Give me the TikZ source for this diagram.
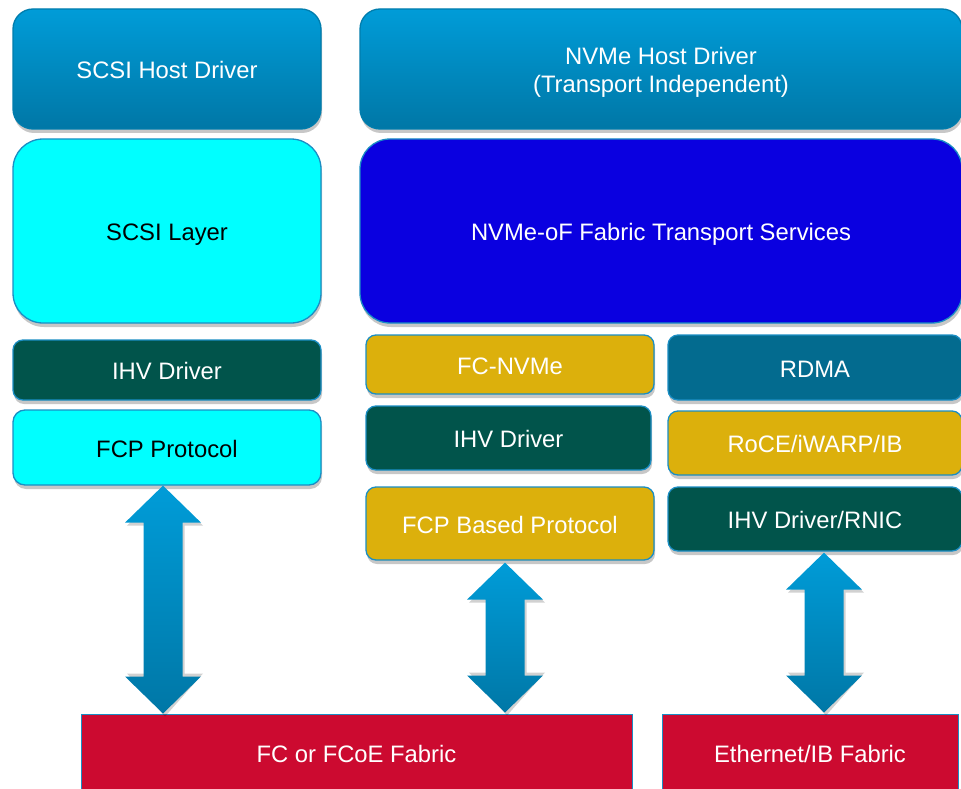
\documentclass[tikz,border=0pt]{standalone}
\usepackage{fontspec}
\setmainfont{Liberation Sans}
\usetikzlibrary{shadows,calc}

\definecolor{hostTop}{HTML}{009CD8}
\definecolor{hostBot}{HTML}{0077A6}
\definecolor{edgeBlue}{HTML}{1B8EC4}
\definecolor{scsiCyan}{HTML}{00FFFF}
\definecolor{fabBlue}{HTML}{0A00E0}
\definecolor{ihvGreen}{HTML}{01544B}
\definecolor{gold}{HTML}{DCB00C}
\definecolor{rdmaBlue}{HTML}{036B8F}
\definecolor{fabricRed}{HTML}{CC0A30}

\tikzset{
  layer/.style={draw=edgeBlue, line width=1.3pt, inner sep=0pt, align=center,
    text=white, font=\fontsize{23.8}{28.5}\selectfont,
    text height=19pt, text depth=0pt,
    drop shadow={shadow xshift=1pt, shadow yshift=-4pt, opacity=0.22, fill=black}},
  hostbox/.style={layer, rounded corners=20pt, top color=hostTop, bottom color=hostBot, draw=hostTop!80!black},
  cyanbox/.style={layer, rounded corners=#1, fill=scsiCyan, text=black},
  bluebox/.style={layer, rounded corners=30pt, fill=fabBlue},
  greenbox/.style={layer, rounded corners=10pt, fill=ihvGreen},
  goldbox/.style={layer, rounded corners=10pt, fill=gold},
  rdmabox/.style={layer, rounded corners=10pt, fill=rdmaBlue},
  fabricbox/.style={draw=edgeBlue, line width=1pt, fill=fabricRed, inner sep=0pt,
    text=white, font=\fontsize{23.8}{28.5}\selectfont, text height=19pt, text depth=0pt},
  twoline/.style={text=white, align=center, inner sep=0pt, font=\fontsize{23.8}{28.5}\selectfont},
  arrowshade/.style={top color=hostTop, bottom color=hostBot},
}

% fat double-headed arrow between two points (top tip, bottom tip)
\newcommand\fatarrow[2]{%
  \path let \p1=#1, \p2=#2 in
    [fill=black, opacity=0.18]
    (\x1+2pt,\y1-3pt) -- (\x1+40pt,\y1-40pt) -- (\x1+21.5pt,\y1-40pt)
    -- (\x1+21.5pt,\y2+40pt) -- (\x1+40pt,\y2+40pt) -- (\x1+2pt,\y2-3pt)
    -- (\x1-36pt,\y2+40pt) -- (\x1-17.5pt,\y2+40pt) -- (\x1-17.5pt,\y1-40pt)
    -- (\x1-36pt,\y1-40pt) -- cycle;
  \shade[arrowshade] let \p1=#1, \p2=#2 in
    (\x1,\y1) -- (\x1+38pt,\y1-37pt) -- (\x1+19.5pt,\y1-37pt)
    -- (\x1+19.5pt,\y2+37pt) -- (\x1+38pt,\y2+37pt) -- (\x1,\y2)
    -- (\x1-38pt,\y2+37pt) -- (\x1-19.5pt,\y2+37pt) -- (\x1-19.5pt,\y1-37pt)
    -- (\x1-38pt,\y1-37pt) -- cycle;
}

\begin{document}
\begin{tikzpicture}[x=1pt,y=-1pt]
\useasboundingbox[fill=white] (0,0) rectangle (961,789);

% host drivers
\node[hostbox, minimum width=308pt, minimum height=120pt] (shd) at (167,69) {SCSI Host Driver};
\node[hostbox, minimum width=602pt, minimum height=120pt, text height=, text depth=] (nhd) at (661,69) {};
\node[twoline] (nhdtext) at ($(nhd.center)+(0,3.5)$) {NVMe Host Driver\\(Transport Independent)};

% middle layers
\node[cyanbox=30pt, minimum width=308pt, minimum height=184pt] (sl) at (167,231) {SCSI Layer};
\node[bluebox, minimum width=602pt, minimum height=184pt] (nof) at (661,231) {NVMe-oF Fabric Transport Services};

% SCSI stack
\node[greenbox, minimum width=308pt, minimum height=60pt] (ihva) at (167,370) {IHV Driver};
\node[cyanbox=12pt, minimum width=308pt, minimum height=75pt] (fcp) at (167,447.5) {FCP Protocol};

% FC-NVMe stack
\node[goldbox, minimum width=288pt, minimum height=59pt] (fcn) at (510,364.5) {FC-NVMe};
\node[greenbox, minimum width=285pt, minimum height=64pt] (ihvb) at (508.5,438) {IHV Driver};
\node[goldbox, minimum width=288pt, minimum height=73pt] (fcpb) at (510,523.5) {FCP Based Protocol};

% RDMA stack
\node[rdmabox, minimum width=294pt, minimum height=65pt] (rdma) at (815,367.5) {RDMA};
\node[goldbox, minimum width=294pt, minimum height=64pt] (roce) at (815,443) {RoCE/iWARP/IB};
\node[greenbox, minimum width=294pt, minimum height=64pt] (rnic) at (815,519) {IHV Driver/RNIC};

% fabrics
\node[fabricbox, minimum width=551pt, minimum height=77pt] (fcf) at (356.5,752.5) {FC or FCoE Fabric};
\node[fabricbox, minimum width=296pt, minimum height=77pt] (eib) at (810,752.5) {Ethernet/IB Fabric};

% arrow axes
\coordinate (axa) at (163,0);
\coordinate (axb) at (505,0);
\coordinate (axc) at (824,0);

\fatarrow{(axa |- fcp.south)}{(axa |- fcf.north)}
\fatarrow{($(axb |- fcpb.south)+(0,2)$)}{($(axb |- fcf.north)+(0,-1)$)}
\fatarrow{($(axc |- rnic.south)+(0,1)$)}{($(axc |- eib.north)+(0,-1)$)}
\end{tikzpicture}
\end{document}
